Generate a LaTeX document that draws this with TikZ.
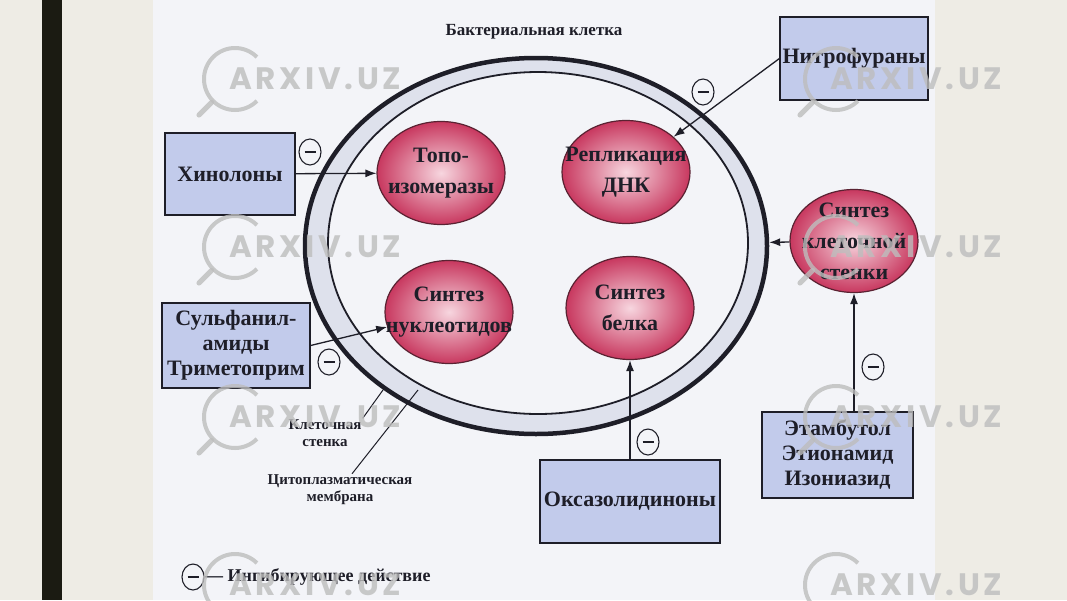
\documentclass[tikz,border=0pt]{standalone}
\usepackage{fontspec}
\setmainfont{Liberation Serif}
\newfontfamily\wmfont[LetterSpace=12]{Poppins}
\usepackage{tikz}
\usetikzlibrary{shapes.geometric,arrows.meta}

\definecolor{slidebg}{HTML}{EEECE5}
\definecolor{barcol}{HTML}{1B1B12}
\definecolor{paper}{HTML}{F3F4F8}
\definecolor{wallband}{HTML}{DEE1EC}
\definecolor{boxblue}{HTML}{C2CBEB}
\definecolor{inkcol}{HTML}{1E1E28}
\definecolor{pinkin}{HTML}{F7D6DF}
\definecolor{pinkout}{HTML}{C8385F}
\definecolor{pinkedge}{HTML}{5A2232}
\definecolor{wmgray}{HTML}{BDBDBD}

\tikzset{
  drug/.style={draw=inkcol,line width=1.2pt,fill=boxblue,align=center,inner sep=0pt,
    text=inkcol,font=\fontsize{22}{25}\selectfont\bfseries},
  proc/.style={ellipse,draw=pinkedge,line width=1.2pt,inner color=pinkin,outer color=pinkout,
    minimum width=128pt,minimum height=103pt,inner sep=0pt},
  proctext/.style={align=center,text=inkcol,font=\fontsize{22}{31}\selectfont\bfseries},
  inhib/.style={ellipse,draw=inkcol,line width=1.1pt,fill=paper,text=inkcol,
    minimum width=22pt,minimum height=26pt,inner sep=0pt},
  arr/.style={draw=inkcol,line width=1.3pt,-{Latex[length=11pt,width=8pt]}},
  note/.style={align=center,inner sep=1pt,text=inkcol,font=\fontsize{15}{17}\selectfont\bfseries},
}

\begin{document}
\begin{tikzpicture}[x=1pt,y=-1pt]
  \useasboundingbox (0,0) rectangle (1067,600);
  % slide and scanned page
  \fill[slidebg] (0,0) rectangle (1067,600);
  \fill[barcol] (42,0) rectangle (62,600);
  \fill[paper] (153,0) rectangle (935,600);

  % the cell: wall and membrane
  \node[font=\fontsize{17}{20}\selectfont\bfseries,text=inkcol] (title) at (534,32) {Бактериальная клетка};
  \node[ellipse,draw=inkcol,line width=4.5pt,fill=wallband,minimum width=462pt,minimum height=376pt] (wall) at (536,246) {};
  \node[ellipse,draw=inkcol,line width=1.8pt,fill=paper,minimum width=420pt,minimum height=342pt] (membr) at (538,243) {};

  % targets
  \node[proc,label={[proctext]center:Топо-\\изомеразы}] (topo) at (441,173) {};
  \node[proc,label={[proctext]center:Репликация\\ДНК}] (repl) at (626,172) {};
  \node[proc,label={[proctext]center:Синтез\\нуклеотидов}] (nucl) at (449,312) {};
  \node[proc,label={[proctext]center:Синтез\\белка}] (belok) at (630,308) {};
  \node[proc,label={[proctext]center:Синтез\\клеточной\\стенки}] (stenka) at (854,241) {};

  % drugs
  \node[drug,minimum width=130pt,minimum height=82pt] (hin) at (230,174) {Хинолоны};
  \node[drug,minimum width=148pt,minimum height=83pt] (nitro) at (854,58.5) {Нитрофураны};
  \node[drug,minimum width=148pt,minimum height=85pt] (sulf) at (236,345.5) {Сульфанил-\\амиды\\Триметоприм};
  \node[drug,minimum width=180pt,minimum height=83pt] (oxa) at (630,501.5) {Оксазолидиноны};
  \node[drug,minimum width=151pt,minimum height=86pt] (etam) at (837.5,455) {Этамбутол\\Этионамид\\Изониазид};

  % inhibition arrows
  \draw[arr] (hin) -- (topo);
  \draw[arr] (nitro.west) -- (repl);
  \draw[arr] (sulf.east) -- (nucl);
  \draw[arr] (oxa) -- (belok);
  \draw[arr] (etam.north -| stenka) -- (stenka);
  \draw[arr] (stenka) -- (wall);
  \node[inhib] (mhin) at (310,152) {\rule{11pt}{2.8pt}};
  \node[inhib] (mnitro) at (703,92) {\rule{11pt}{2.8pt}};
  \node[inhib] (msulf) at (329,362) {\rule{11pt}{2.8pt}};
  \node[inhib] (moxa) at (648,442) {\rule{11pt}{2.8pt}};
  \node[inhib] (metam) at (873,367) {\rule{11pt}{2.8pt}};

  % wall and membrane labels
  \coordinate (wallpt) at (383,390);
  \coordinate (membrpt) at (418,390);
  \node[note] (wallnote) at (325,433) {Клеточная\\стенка};
  \node[note] (membrnote) at (340,490) {Цитоплазматическая\\мембрана};
  \draw[inkcol,line width=1pt] (wallnote.north east) -- (wallpt);
  \draw[inkcol,line width=1pt] ([xshift=12pt]membrnote.north) -- (membrpt);

  % legend
  \node[inhib] (mleg) at (193,577) {\rule{11pt}{2.8pt}};
  \node[anchor=west,inner sep=0pt,text=inkcol,font=\fontsize{18}{20}\selectfont\bfseries] (legtext) at (205,577) {— Ингибирующее действие};

  % watermark
  \begin{scope}[opacity=0.8]
    \foreach \wx in {235,836}
      \foreach \wy in {79,247,417,585} {
        \draw[wmgray,line width=4pt] (\wx,\wy) ++(45:31pt) arc[start angle=45,end angle=315,radius=31pt];
        \draw[wmgray,line width=5pt,line cap=round] (\wx,\wy) ++(225:33pt) -- ++(225:18pt);
        \node[wmgray,anchor=west,inner sep=0pt,font=\wmfont\fontsize{31}{33}\selectfont\bfseries] (wm\wx\wy) at (\wx-6,\wy) {ARXIV.UZ};
      }
  \end{scope}
\end{tikzpicture}
\end{document}
